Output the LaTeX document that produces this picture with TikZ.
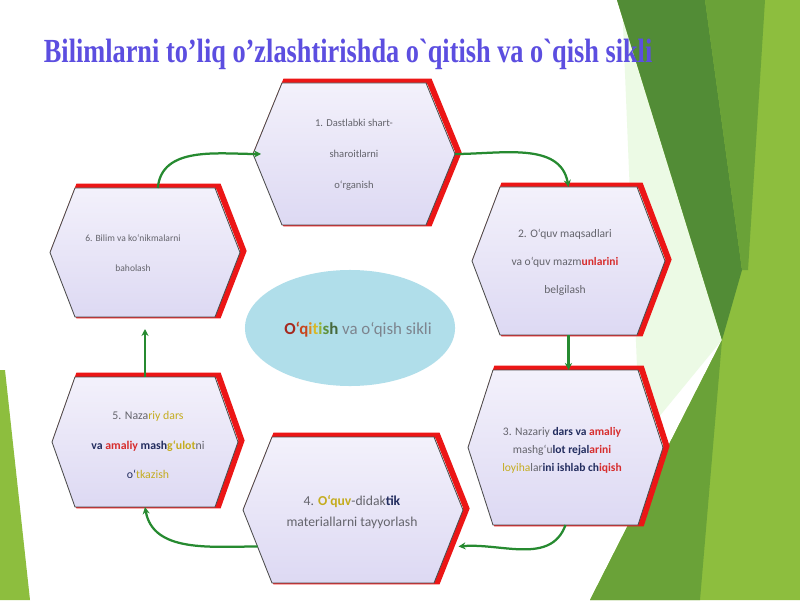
\documentclass[tikz,border=0pt]{standalone}
\usepackage{fontspec}
\setmainfont{Liberation Serif}
\newfontfamily\calib{Carlito}
\usepackage{tikz}
\usetikzlibrary{positioning}
\usetikzlibrary{arrows.meta}
\usetikzlibrary{shapes.geometric,calc}
\definecolor{lavtop}{RGB}{243,241,251}
\definecolor{lavbot}{RGB}{221,217,243}
\definecolor{rim}{RGB}{236,22,22}
\definecolor{arrowgreen}{RGB}{38,138,48}
\definecolor{titleblue}{RGB}{92,78,224}
\definecolor{navytxt}{RGB}{35,45,95}
\definecolor{redtxt}{RGB}{215,45,45}
\definecolor{goldtxt}{RGB}{196,172,30}
\definecolor{graytxt}{RGB}{100,100,108}
\definecolor{pool}{RGB}{176,222,234}
\definecolor{lime}{RGB}{141,190,62}
\definecolor{leaf}{RGB}{82,140,54}
\definecolor{moss}{RGB}{106,162,56}
\tikzset{
  hexa/.style={draw=gray!60!black,line width=0.6pt,top color=lavtop,bottom color=lavbot},
  redrim/.style={draw=rim,line width=4.2pt,line join=miter},
  flow/.style={draw=arrowgreen,line width=1.6pt,-{Stealth[length=5pt,width=5pt]}},
  hextext/.style={align=center,text=graytxt}
}

\begin{document}
\begin{tikzpicture}[x=0.025cm,y=0.025cm]
  \useasboundingbox (0,0) rectangle (800,600);
  \fill[white] (0,0) rectangle (800,600);
  \fill[lime] (0,230) -- (5,230) -- (30,0) -- (0,0) -- cycle;
  \fill[green!30!lime!12!white] (622,600) -- (722,260) -- (640,160) -- cycle;
  \fill[lime] (617,600) -- (800,600) -- (800,0) -- (590,0) -- (722,260) -- cycle;
  \fill[leaf] (617,600) -- (705,600) -- (742,330) -- (722,260) -- cycle;
  \fill[moss] (705,600) -- (765,600) -- (748,330) -- (742,330) -- cycle;
  \fill[moss] (722,260) -- (590,0) -- (700,0) -- cycle;

  \node[font=\bfseries\fontsize{24}{28}\selectfont,text=titleblue,xscale=0.78,anchor=base west] (title) at (40,537)
    {Bilimlarni to’liq o’zlashtirishda o\textasciigrave{}qitish va o\textasciigrave{}qish sikli};

  \node[ellipse,fill=pool,minimum width=5.25cm,minimum height=2.9cm] (cycle) at (350,272) {};
  \node[font=\calib\fontsize{12}{14}\selectfont] (cycletext) at (358,270)
    {\textbf{\textcolor[RGB]{165,40,30}{O}\textcolor[RGB]{200,70,30}{‘q}\textcolor[RGB]{225,140,30}{i}\textcolor[RGB]{215,185,40}{t}\textcolor[RGB]{150,180,50}{i}\textcolor[RGB]{95,145,60}{s}\textcolor[RGB]{70,105,60}{h}} \textcolor[RGB]{125,132,142}{va o‘qish sikli}};

  \foreach \n/\xa/\xb/\yt/\yb/\d in {1/253/455/517/375/29, 2/472/665/413/265/28, 3/468/663/230/75/25,
                                     4/243/463/163/17/29, 5/52/238/223/93/23, 6/50/240/412/283/25}{
    \pgfmathsetmacro\ym{(\yt+\yb)/2}
    \draw[redrim,shift={(3.5,1.5)}] (\xa,\ym) -- (\xa+\d,\yt) -- (\xb-\d,\yt) -- (\xb,\ym) -- (\xb-\d,\yb) -- (\xa+\d,\yb) -- cycle;
    \draw[hexa] (\xa,\ym) coordinate (w\n) -- (\xa+\d,\yt) -- (\xb-\d,\yt) -- (\xb,\ym) coordinate (e\n)
      -- (\xb-\d,\yb) coordinate (c\n) -- (\xa+\d,\yb) coordinate (d\n) -- cycle;
    \coordinate (n\n) at ({(\xa+\xb)/2},\yt);
    \coordinate (s\n) at ({(\xa+\xb)/2},\yb);
  }

  \node[hextext,font=\calib\fontsize{7.5}{22}\selectfont] (t1) at (354,445)
    {1. Dastlabki shart-\\sharoitlarni\\o‘rganish};
  \node[hextext,font=\calib\fontsize{8.2}{20}\selectfont] (t2) at (565,338)
    {2. O‘quv maqsadlari\\va o‘quv mazm\textbf{\color{redtxt}unlarini}\\belgilash};
  \node[hextext,font=\calib\fontsize{8.2}{12.8}\selectfont] (t3) at (562,150)
    {3. Nazariy \textbf{\color{navytxt}dars va \color{redtxt}amaliy}\\
     mashg‘u\textbf{\color{navytxt}lot rejal\color{redtxt}arini}\\
     {\color{goldtxt}loyiha}lar\textbf{\color{navytxt}ini ishlab ch\color{redtxt}iqish}};
  \node[hextext,font=\calib\fontsize{9.7}{15}\selectfont] (t4) at (352,88)
    {4. \textbf{\color{goldtxt}O‘quv}-didak\textbf{\color{navytxt}tik}\\materiallarni tayyorlash};
  \node[hextext,font=\calib\fontsize{8.4}{21}\selectfont] (t5) at (148,155)
    {5. Naza{\color{goldtxt}riy dars}\\
     \textbf{\color{navytxt}va \color{redtxt}amaliy \color{navytxt}mash\color{goldtxt}g‘ulot}ni\\
     {\color{navytxt}o‘}{\color{goldtxt}tkazish}};
  \node[hextext,font=\calib\fontsize{6.8}{21}\selectfont] (t6) at (133,347)
    {6. Bilim va ko‘nikmalarni\\baholash};

  \draw[flow] ([xshift=3.2mm]n6) to[out=85,in=180] ([xshift=2mm]w1);
  \draw[flow] (e1) to[out=0,in=100] (n2);
  \draw[flow] (s2) -- (s2 |- n3);
  \draw[flow] (s3) to[out=-110,in=5] ($(e4)!0.5!(c4)+(10,0)$);
  \draw[flow] ($(w4)!0.5!(d4)$) to[out=180,in=-80] (s5);
  \draw[flow] (n5) -- ([yshift=-3mm]s6);
\end{tikzpicture}
\end{document}
